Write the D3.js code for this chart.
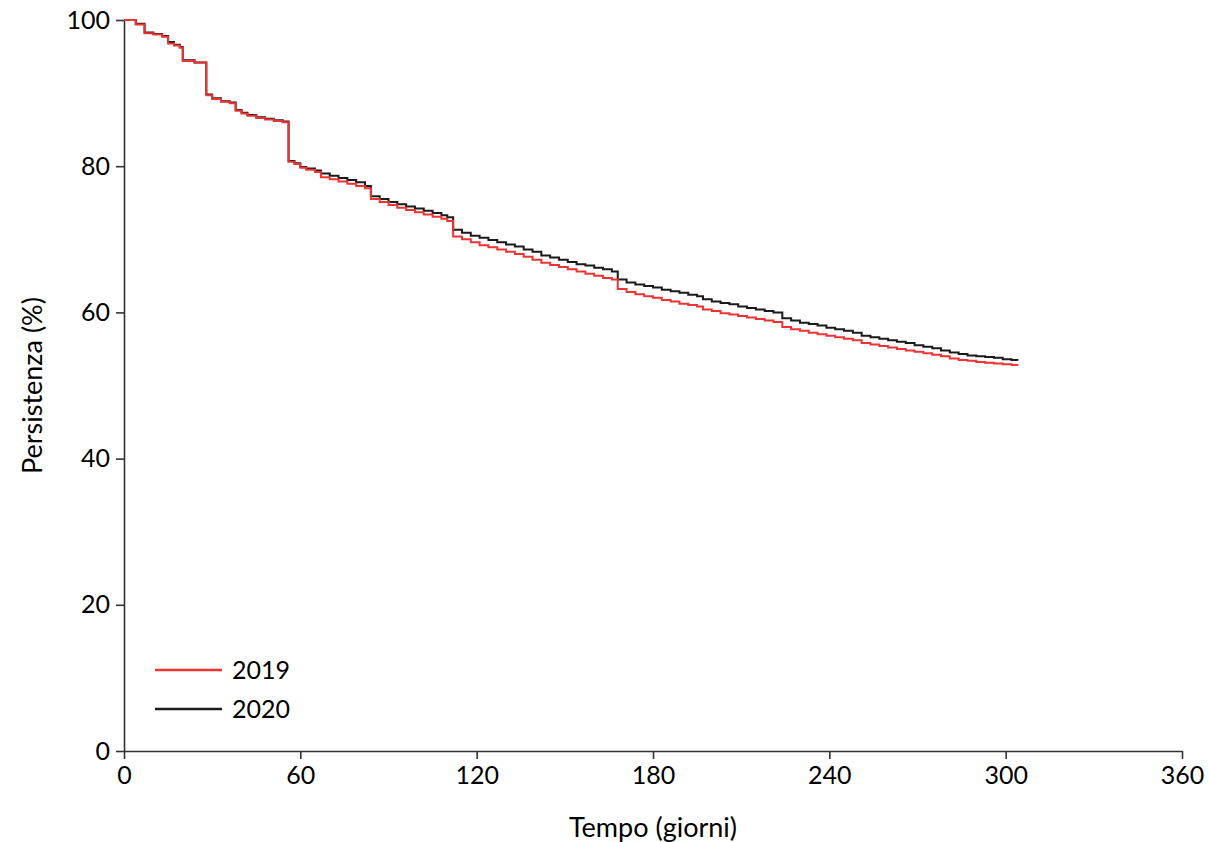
<!DOCTYPE html>
<html>
<head>
<meta charset="utf-8">
<script src="https://cdn.jsdelivr.net/npm/d3@7"></script>
<style>
  body { margin: 0; background: #fff; }
  text { font-family: Lato, "Open Sans", sans-serif; fill: #000; }
</style>
</head>
<body>
<div id="chart"></div>
<script>
// data (day, persistence %)
const days = [0, 4, 7, 10, 13, 15, 17, 19, 20, 24, 28, 30, 33, 36, 38, 40, 42, 45, 48, 51, 54, 56, 58, 60,
  62, 65, 67, 70, 73, 76, 79, 82, 84, 87, 90, 93, 96, 99, 102, 105, 108, 110, 112, 115, 118, 121, 124,
  127, 130, 133, 136, 139, 142, 145, 148, 151, 154, 157, 160, 163, 166, 168, 171, 174, 177, 180, 183,
  186, 189, 192, 195, 197, 200, 203, 206, 209, 212, 215, 218, 221, 224, 227, 230, 233, 236, 239, 242,
  245, 248, 251, 254, 257, 260, 263, 266, 269, 272, 275, 278, 281, 284, 287, 290, 293, 296, 299, 302, 304];

const values2019 = [100, 99.4, 98.2, 98.0, 97.7, 96.8, 96.5, 96.2, 94.4, 94.2, 89.7, 89.2, 88.8, 88.6, 87.6,
  87.2, 86.9, 86.6, 86.4, 86.2, 86.0, 80.6, 80.3, 79.8, 79.5, 79.2, 78.5, 78.2, 77.9, 77.6, 77.3, 77.0,
  75.5, 75.1, 74.7, 74.3, 74.0, 73.7, 73.4, 73.1, 72.8, 72.5, 70.4, 70.0, 69.6, 69.2, 68.9, 68.6, 68.3,
  68.0, 67.6, 67.2, 66.8, 66.5, 66.2, 65.9, 65.6, 65.3, 65.0, 64.7, 64.5, 63.2, 62.8, 62.5, 62.2, 62.0,
  61.7, 61.5, 61.2, 61.0, 60.8, 60.4, 60.2, 59.9, 59.7, 59.5, 59.3, 59.1, 58.9, 58.7, 58.0, 57.7, 57.5,
  57.2, 57.0, 56.8, 56.6, 56.4, 56.2, 55.8, 55.6, 55.4, 55.2, 55.0, 54.8, 54.6, 54.4, 54.2, 54.0, 53.7,
  53.5, 53.4, 53.2, 53.1, 53.0, 52.9, 52.8, 52.7];

const values2020 = [100, 99.5, 98.3, 98.1, 97.8, 97.0, 96.6, 96.3, 94.5, 94.2, 89.8, 89.3, 88.9, 88.7, 87.7,
  87.3, 87.0, 86.7, 86.5, 86.3, 86.1, 80.7, 80.4, 79.9, 79.7, 79.4, 79.0, 78.7, 78.4, 78.1, 77.8, 77.3,
  75.9, 75.5, 75.1, 74.8, 74.5, 74.2, 73.9, 73.6, 73.3, 73.0, 71.3, 70.9, 70.5, 70.2, 69.9, 69.6, 69.3,
  69.0, 68.6, 68.3, 67.8, 67.5, 67.2, 66.9, 66.6, 66.4, 66.1, 65.9, 65.6, 64.5, 64.1, 63.8, 63.6, 63.4,
  63.1, 62.9, 62.7, 62.4, 62.2, 61.8, 61.5, 61.3, 61.1, 60.8, 60.6, 60.4, 60.2, 60.0, 59.2, 58.9, 58.6,
  58.4, 58.2, 57.9, 57.7, 57.5, 57.2, 56.8, 56.6, 56.4, 56.2, 56.0, 55.8, 55.5, 55.3, 55.1, 54.8, 54.5,
  54.3, 54.1, 54.0, 53.9, 53.8, 53.6, 53.5, 53.4];

const xTicks = [0, 60, 120, 180, 240, 300, 360];
const yTicks = [0, 20, 40, 60, 80, 100];

const series = [
  { name: "2020", values: values2020, color: "#1a1a1a" },
  { name: "2019", values: values2019, color: "#ee3333" }
];

const width = 1209, height = 842;
const margin = { top: 20, right: 27, bottom: 91, left: 124 };

const svg = d3.select("#chart").append("svg")
    .attr("width", width)
    .attr("height", height);

const x = d3.scaleLinear().domain([0, 360]).range([margin.left, width - margin.right]);
const y = d3.scaleLinear().domain([0, 100]).range([height - margin.bottom, margin.top]);

// axes
const xAxis = svg.append("g")
    .attr("transform", `translate(0,${height - margin.bottom})`)
    .call(d3.axisBottom(x).tickValues(xTicks).tickSize(8).tickPadding(7).tickSizeOuter(0));

const yAxis = svg.append("g")
    .attr("transform", `translate(${margin.left},0)`)
    .call(d3.axisLeft(y).tickValues(yTicks).tickSize(8).tickPadding(6).tickSizeOuter(0));

[xAxis, yAxis].forEach(g => {
    g.select(".domain").attr("stroke", "#333").attr("stroke-width", 1.6);
    g.selectAll(".tick line").attr("stroke", "#333").attr("stroke-width", 1.6);
    g.selectAll(".tick text").style("font-size", "25px").attr("fill", "#000");
});

// axis titles
svg.append("text")
    .attr("x", x(180))
    .attr("y", 837)
    .attr("text-anchor", "middle")
    .style("font-size", "27px")
    .text("Tempo (giorni)");

svg.append("text")
    .attr("transform", `translate(42,${y(50)}) rotate(-90)`)
    .attr("text-anchor", "middle")
    .style("font-size", "27px")
    .text("Persistenza (%)");

// step lines
const line = d3.line()
    .x((d, i) => x(days[i]))
    .y(d => y(d))
    .curve(d3.curveStepAfter);

svg.selectAll(".series")
    .data(series)
    .enter().append("path")
    .attr("class", "series")
    .attr("fill", "none")
    .attr("stroke", d => d.color)
    .attr("stroke-width", 2)
    .attr("d", d => line(d.values));

// legend
const legend = svg.append("g").attr("transform", "translate(155,670)");
const legendItems = [series[1], series[0]];
legendItems.forEach((s, i) => {
    legend.append("line")
        .attr("x1", 0).attr("x2", 67)
        .attr("y1", i * 39).attr("y2", i * 39)
        .attr("stroke", s.color)
        .attr("stroke-width", 2.5);
    legend.append("text")
        .attr("x", 77)
        .attr("y", i * 39)
        .attr("dy", "0.35em")
        .style("font-size", "25px")
        .text(s.name);
});
</script>
</body>
</html>
